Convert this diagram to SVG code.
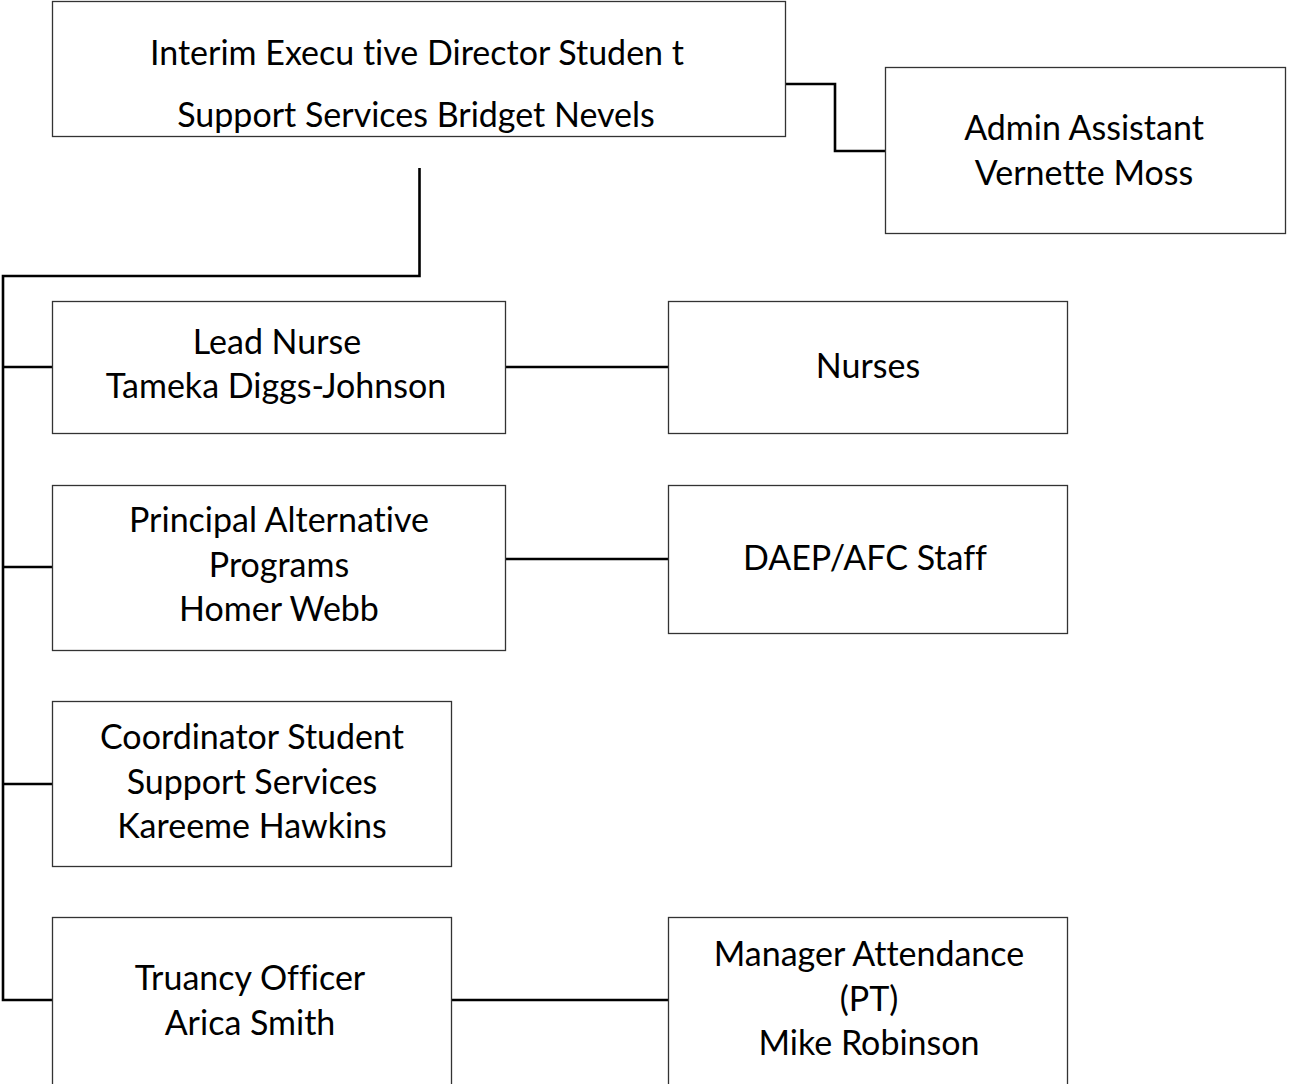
<svg xmlns="http://www.w3.org/2000/svg" width="1289" height="1084" viewBox="0 0 1289 1084">
  <style>
    .box { fill: #ffffff; stroke: #333333; stroke-width: 1.3; }
    .lbl { font-family: Lato, "Open Sans", sans-serif; font-size: 34px; fill: #000000; text-anchor: middle; font-variant-ligatures: none; }
    .wire { fill: none; stroke: #000000; stroke-width: 2.6; stroke-linejoin: miter; }
  </style>
  <rect width="1289" height="1084" fill="#ffffff"/>

  <!-- reporting lines -->
  <g id="connectors">
    <polyline class="wire" points="786,84 835,84 835,151 885,151"/>
    <polyline class="wire" points="419.5,168 419.5,276 3,276 3,1000 52,1000"/>
    <line class="wire" x1="3" y1="367" x2="52" y2="367"/>
    <line class="wire" x1="3" y1="567" x2="52" y2="567"/>
    <line class="wire" x1="3" y1="784" x2="52" y2="784"/>
    <line class="wire" x1="506" y1="367" x2="668" y2="367"/>
    <line class="wire" x1="506" y1="559" x2="668" y2="559"/>
    <line class="wire" x1="452" y1="1000" x2="668" y2="1000"/>
  </g>

  <g id="director">
    <rect class="box" x="52.5" y="1.5" width="733" height="135"/>
    <text class="lbl" x="417" y="65">Interim Execu tive Director Studen t</text>
    <text class="lbl" x="416" y="127">Support Services Bridget Nevels</text>
  </g>

  <g id="admin-assistant">
    <rect class="box" x="885.5" y="67.5" width="400" height="166"/>
    <text class="lbl" x="1084" y="140">Admin Assistant</text>
    <text class="lbl" x="1084" y="185">Vernette Moss</text>
  </g>

  <g id="lead-nurse">
    <rect class="box" x="52.5" y="301.5" width="453" height="132"/>
    <text class="lbl" x="277" y="354">Lead Nurse</text>
    <text class="lbl" x="276" y="398">Tameka Diggs-Johnson</text>
  </g>

  <g id="nurses">
    <rect class="box" x="668.5" y="301.5" width="399" height="132"/>
    <text class="lbl" x="868" y="378">Nurses</text>
  </g>

  <g id="principal">
    <rect class="box" x="52.5" y="485.5" width="453" height="165"/>
    <text class="lbl" x="279" y="532">Principal Alternative</text>
    <text class="lbl" x="279" y="577">Programs</text>
    <text class="lbl" x="279" y="621">Homer Webb</text>
  </g>

  <g id="daep-staff">
    <rect class="box" x="668.5" y="485.5" width="399" height="148"/>
    <text class="lbl" x="865" y="570">DAEP/AFC Staff</text>
  </g>

  <g id="coordinator">
    <rect class="box" x="52.5" y="701.5" width="399" height="165"/>
    <text class="lbl" x="252" y="749">Coordinator Student</text>
    <text class="lbl" x="252" y="794">Support Services</text>
    <text class="lbl" x="252" y="838">Kareeme Hawkins</text>
  </g>

  <g id="truancy-officer">
    <rect class="box" x="52.5" y="917.5" width="399" height="170"/>
    <text class="lbl" x="250" y="990">Truancy Officer</text>
    <text class="lbl" x="250" y="1035">Arica Smith</text>
  </g>

  <g id="attendance-manager">
    <rect class="box" x="668.5" y="917.5" width="399" height="170"/>
    <text class="lbl" x="869" y="966">Manager Attendance</text>
    <text class="lbl" x="869" y="1011">(PT)</text>
    <text class="lbl" x="869" y="1055">Mike Robinson</text>
  </g>
</svg>
